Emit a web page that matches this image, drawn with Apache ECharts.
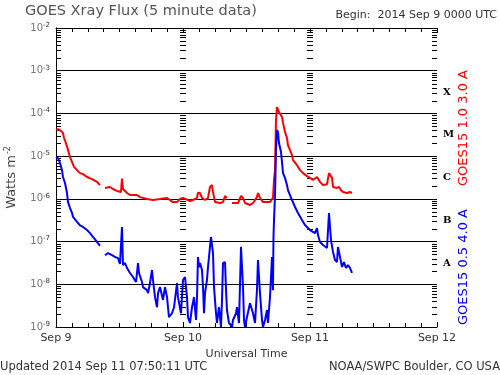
<!DOCTYPE html>
<html>
<head>
    <meta charset="utf-8">
    <title>GOES Xray Flux</title>
    <script src="https://cdn.jsdelivr.net/npm/echarts@6/dist/echarts.min.js"></script>
    <style>
        html, body { margin: 0; padding: 0; background: #fff; }
        #chart { width: 500px; height: 375px; }
    </style>
</head>
<body>
<div id="chart"></div>
<script type="text/javascript">
    // hours since 2014 Sep 9 00:00 UTC, flux in W/m^2
    var dayLabels = ['Sep 9', 'Sep 10', 'Sep 11', 'Sep 12'];
    var classLabels = ['A', 'B', 'C', 'M', 'X'];
    var decades = [-9, -8, -7, -6, -5, -4, -3];
    var minorSteps = [2, 3, 4, 5, 6, 7, 8, 9];
    var tickColumns = [0, 24, 48, 72];

    // GOES15 1.0-8.0 A (long channel)
    var longFlux = [
        [0, 4.1e-5], [0.38, 4.3e-5], [0.94, 3.9e-5], [1.32, 3.5e-5], [1.51, 2.7e-5], [1.89, 2.0e-5],
        [2.27, 1.4e-5], [2.65, 9.5e-6], [3.02, 7.3e-6], [3.40, 5.6e-6], [3.97, 4.7e-6], [4.54, 4.0e-6],
        [5.10, 3.8e-6], [5.86, 3.25e-6], [6.80, 2.9e-6], [7.75, 2.5e-6], [8.31, 2.1e-6], null,
        [9.26, 1.8e-6], [10.2, 1.9e-6], [10.77, 1.7e-6], [11.53, 1.53e-6], [12.28, 1.45e-6], [12.47, 3.0e-6],
        [12.66, 1.7e-6], [13.42, 1.37e-6], [13.98, 1.23e-6], [15.31, 1.23e-6], [15.5, 1.3e-6], [15.87, 1.1e-6],
        [17.2, 9.9e-7], [18.33, 9.4e-7], [19.65, 9.9e-7], [20.98, 1.05e-6], [22.1, 8.4e-7], [22.87, 8.4e-7],
        [23.43, 9.9e-7], [24.0, 1.05e-6], [25.32, 8.9e-7], [25.89, 9.4e-7], [26.65, 1.05e-6], [26.83, 1.4e-6],
        [27.21, 1.37e-6], [27.59, 1.05e-6], [28.16, 9.4e-7], [28.72, 1.05e-6], [29.1, 1.9e-6], [29.48, 2.1e-6],
        [29.67, 1.45e-6], [30.05, 8.4e-7], [30.99, 8.0e-7], [31.56, 8.4e-7], [31.94, 1.17e-6], [32.31, 1.05e-6], null,
        [33.26, 8.0e-7], [34.39, 8.0e-7], [34.96, 1.17e-6], [35.34, 1.05e-6], [35.72, 8.0e-7], [36.66, 7.2e-7],
        [37.23, 8.0e-7], [37.98, 1.1e-6], [38.17, 1.37e-6], [38.55, 1.05e-6], [39.12, 8.4e-7], [40.44, 8.4e-7],
        [41.0, 1.05e-6], [41.2, 2.8e-6], [41.39, 4.7e-6], [41.57, 7.0e-5], [41.76, 1.41e-4], [41.95, 1.49e-4],
        [42.14, 1.08e-4], [42.71, 8.2e-5], [42.9, 6.0e-5], [43.27, 3.7e-5], [43.65, 2.66e-5], [43.84, 1.8e-5],
        [44.22, 1.39e-5], [44.6, 1.06e-5], [44.79, 8.1e-6], [45.54, 6.2e-6], [46.11, 4.7e-6], [46.68, 4.0e-6],
        [47.43, 3.4e-6], [48.0, 3.1e-6], [48.57, 2.76e-6], [49.32, 3.25e-6], [49.51, 3.4e-6], [49.89, 2.5e-6],
        [50.46, 2.1e-6], [51.21, 2.2e-6], [51.59, 4.0e-6], [52.16, 3.1e-6], [52.35, 1.9e-6], [53.1, 1.8e-6],
        [53.48, 1.9e-6], [53.86, 1.6e-6], [54.24, 1.45e-6], [54.99, 1.37e-6], [55.56, 1.45e-6], [55.94, 1.37e-6]
    ];

    // GOES15 0.5-4.0 A (short channel)
    var shortFlux = [
        [0, 9.5e-6], [0.38, 9.0e-6], [0.76, 6.9e-6], [1.13, 4.7e-6], [1.32, 3.25e-6], [1.70, 2.35e-6],
        [2.08, 1.37e-6], [2.27, 8.4e-7], [2.65, 6.1e-7], [3.02, 4.7e-7], [3.21, 3.8e-7], [3.97, 2.9e-7],
        [4.54, 2.4e-7], [5.10, 2.2e-7], [5.86, 1.86e-7], [6.43, 1.58e-7], [6.99, 1.28e-7], [7.75, 9.8e-8],
        [8.31, 7.9e-8], null,
        [9.26, 4.8e-8], [9.83, 5.4e-8], [10.2, 6.0e-8], [10.58, 4.8e-8], [11.15, 4.35e-8], [11.72, 4.1e-8],
        [12.09, 3.0e-8], [12.47, 2.2e-7], [12.66, 2.8e-8], [13.04, 3.15e-8], [13.42, 2.4e-8], [13.98, 1.84e-8],
        [14.55, 1.48e-8], [15.12, 1.13e-8], [15.5, 3.15e-8], [15.68, 1.84e-8], [16.25, 1.13e-8], [16.44, 8.6e-9],
        [17.2, 7.3e-9], [17.39, 6.2e-9], [17.76, 1.07e-8], [18.14, 2.16e-8], [18.33, 1.26e-8], [18.71, 5.0e-9],
        [19.09, 2.9e-9], [19.28, 6.2e-9], [19.65, 8.6e-9], [20.22, 4.3e-9], [20.6, 8.6e-9], [20.98, 5.0e-9],
        [21.35, 1.7e-9], [21.92, 2.1e-9], [22.3, 2.9e-9], [22.87, 1.07e-8], [23.05, 5.0e-9], [23.62, 2.1e-9],
        [24.0, 1.26e-8], [24.38, 1.48e-8], [24.76, 5.0e-9], [24.94, 1.7e-9], [25.32, 1.24e-9], [25.70, 2.9e-9],
        [26.08, 5.0e-9], [26.46, 1.46e-9], [26.65, 5.0e-9], [26.83, 4.35e-8], [27.02, 2.5e-8], [27.21, 3.15e-8],
        [27.59, 2.16e-8], [27.78, 8.6e-9], [27.97, 2.1e-9], [28.16, 6.2e-9], [28.53, 1.26e-8], [28.72, 2.5e-8],
        [29.10, 7.5e-8], [29.29, 1.28e-7], [29.67, 5.4e-8], [29.86, 8.6e-9], [30.24, 2.1e-9], [30.42, 1.24e-9],
        [30.80, 2.9e-9], [31.18, 1.0e-9], [31.37, 4.3e-9], [31.56, 3.15e-8], [31.94, 3.3e-8], [32.13, 7.3e-9],
        [32.31, 2.5e-9], [32.69, 1.24e-9], [33.26, 1.0e-9], [33.45, 1.46e-9], [34.02, 2.1e-9], [34.20, 2.9e-9],
        [34.58, 1.24e-9], [34.96, 7.5e-8], [35.15, 8.3e-8], [35.34, 8.6e-9], [35.53, 1.46e-9], [35.72, 1.0e-9],
        [36.09, 1.7e-9], [36.66, 3.6e-9], [37.23, 2.1e-9], [37.61, 1.24e-9], [37.98, 7.3e-9], [38.17, 3.7e-8],
        [38.55, 6.2e-9], [38.93, 1.46e-9], [39.12, 1.0e-9], [39.5, 1.46e-9], [39.88, 2.5e-9], [40.06, 1.24e-9],
        [40.44, 5.0e-9], [40.82, 4.35e-8], [41.0, 7.3e-9], [41.1, 1.28e-7], [41.2, 3.2e-7], [41.39, 1.2e-6],
        [41.57, 1.39e-5], [41.76, 4.1e-5], [41.95, 3.67e-5], [42.14, 2.03e-5], [42.52, 1.25e-5], [42.71, 7.3e-6],
        [42.9, 4.0e-6], [43.27, 3.1e-6], [43.65, 2.1e-6], [43.84, 1.6e-6], [44.22, 1.23e-6], [44.6, 9.4e-7],
        [45.17, 6.45e-7], [45.73, 4.66e-7], [46.49, 3.2e-7], [47.05, 2.44e-7], [48.0, 1.86e-7], [48.94, 1.58e-7],
        [49.32, 2.07e-7], [49.51, 1.42e-7], [49.89, 9.75e-8], [50.46, 8.3e-8], [51.21, 7.06e-8], [51.59, 4.66e-7],
        [51.97, 1.09e-7], [52.35, 5.7e-8], [52.72, 3.7e-8], [53.1, 3.3e-8], [53.29, 7.45e-8], [53.67, 4.35e-8],
        [54.05, 2.54e-8], [54.42, 3.3e-8], [54.80, 2.4e-8], [55.18, 2.8e-8], [55.56, 2.4e-8], [55.94, 1.84e-8]
    ];

    // log minor tick marks (2..9 x 10^n) at the left, Sep 10, Sep 11 and right columns
    var minorTickData = [];
    tickColumns.forEach(function (h, ci) {
        decades.forEach(function (d) {
            minorSteps.forEach(function (m) {
                minorTickData.push([h, m * Math.pow(10, d), ci]);
            });
        });
    });

    var myChart = echarts.init(document.getElementById('chart'));

    var option = {
        backgroundColor: '#fff',
        animation: false,
        textStyle: { fontFamily: 'DejaVu Sans' },
        grid: { left: 56, right: 63, top: 28, bottom: 48, outerBoundsMode: 'none' },
        graphic: [
            { type: 'text', left: 25, top: 4,
              style: { text: 'GOES Xray Flux (5 minute data)', fontSize: 14.5, fill: '#555', fontFamily: 'DejaVu Sans' } },
            { type: 'text', right: 3, top: 10,
              style: { text: 'Begin:  2014 Sep 9 0000 UTC', fontSize: 11, fill: '#333', fontFamily: 'DejaVu Sans' } },
            { type: 'text', left: 0, top: 361,
              style: { text: 'Updated 2014 Sep 11 07:50:11 UTC', fontSize: 11.5, fill: '#333', fontFamily: 'DejaVu Sans' } },
            { type: 'text', right: 0, top: 361,
              style: { text: 'NOAA/SWPC Boulder, CO USA', fontSize: 11.5, fill: '#333', fontFamily: 'DejaVu Sans' } },
            { type: 'text', x: 464, y: 128, rotation: Math.PI / 2,
              style: { text: 'GOES15 1.0 3.0 A', fontSize: 13, fill: '#ff0000', align: 'center', verticalAlign: 'middle', fontFamily: 'DejaVu Sans' } },
            { type: 'text', x: 464, y: 267, rotation: Math.PI / 2,
              style: { text: 'GOES15 0.5 4.0 A', fontSize: 13, fill: '#0000ff', align: 'center', verticalAlign: 'middle', fontFamily: 'DejaVu Sans' } }
        ],
        xAxis: [{
            type: 'value',
            min: 0,
            max: 72,
            interval: 24,
            name: 'Universal Time',
            nameLocation: 'middle',
            nameGap: 22,
            nameTextStyle: { fontSize: 11, color: '#333' },
            axisLine: { show: true, lineStyle: { color: '#000', width: 1 } },
            axisTick: { show: true, inside: true, length: 5, lineStyle: { color: '#000' } },
            minorTick: { show: true, splitNumber: 8, length: 4, lineStyle: { color: '#000' } },
            axisLabel: {
                fontSize: 11, color: '#333', margin: 6,
                formatter: function (v) { return dayLabels[Math.round(v / 24)]; }
            },
            splitLine: { show: false }
        }, {
            type: 'value',
            position: 'top',
            min: 0,
            max: 72,
            interval: 24,
            axisLine: { show: true, lineStyle: { color: '#000', width: 1 } },
            axisTick: { show: true, inside: true, length: 5, lineStyle: { color: '#000' } },
            minorTick: { show: true, splitNumber: 8, length: 4, lineStyle: { color: '#000' } },
            axisLabel: { show: false },
            splitLine: { show: false }
        }],
        yAxis: [{
            type: 'log',
            logBase: 10,
            min: 1e-9,
            max: 1e-2,
            splitNumber: 7,
            name: '{n|Watts m}{s|-2}',
            nameLocation: 'middle',
            nameGap: 36,
            nameRotate: 90,
            nameTextStyle: {
                rich: {
                    n: { fontSize: 13, color: '#444' },
                    s: { fontSize: 8, color: '#444', padding: [0, 0, 8, 1] }
                }
            },
            axisLine: { show: true, lineStyle: { color: '#000', width: 1 } },
            axisTick: { show: false },
            axisLabel: {
                margin: 6,
                formatter: function (v) {
                    return '{b|10}{s|' + Math.round(Math.log10(v)) + '}';
                },
                rich: {
                    b: { fontSize: 10, color: '#777' },
                    s: { fontSize: 7, color: '#333', padding: [0, 0, 6, 0] }
                }
            },
            splitLine: { show: true, lineStyle: { color: '#000', width: 1 } }
        }, {
            type: 'value',
            position: 'right',
            min: -9,
            max: -2,
            interval: 0.5,
            axisLine: { show: true, lineStyle: { color: '#000', width: 1 } },
            axisTick: { show: false },
            splitLine: { show: false },
            axisLabel: {
                margin: 6,
                fontSize: 10,
                fontWeight: 'bold',
                fontFamily: 'DejaVu Serif',
                color: '#000',
                formatter: function (v) {
                    var i = Math.round(v + 7.5);
                    return (Math.abs(v - Math.round(v)) > 0.25 && i >= 0 && i < classLabels.length) ? classLabels[i] : '';
                }
            }
        }],
        series: [{
            type: 'custom',
            silent: true,
            xAxisIndex: 0,
            yAxisIndex: 0,
            clip: false,
            data: minorTickData,
            renderItem: function (params, api) {
                var p = api.coord([api.value(0), api.value(1)]);
                var col = api.value(2);
                var y = Math.round(p[1]) + 0.5;
                var x1, x2;
                if (col === 0) { x1 = p[0]; x2 = p[0] + 5; }
                else if (col === 3) { x1 = p[0] - 5; x2 = p[0]; }
                else { x1 = p[0] - 3; x2 = p[0] + 3; }
                return {
                    type: 'line',
                    shape: { x1: x1, y1: y, x2: x2, y2: y },
                    style: { stroke: '#000', lineWidth: 1 }
                };
            }
        }, {
            name: 'GOES15 1.0 3.0 A',
            type: 'line',
            data: longFlux,
            showSymbol: false,
            connectNulls: false,
            lineStyle: { color: '#ff0000', width: 2 },
            itemStyle: { color: '#ff0000' },
            z: 3
        }, {
            name: 'GOES15 0.5 4.0 A',
            type: 'line',
            data: shortFlux,
            showSymbol: false,
            connectNulls: false,
            lineStyle: { color: '#0000ff', width: 2 },
            itemStyle: { color: '#0000ff' },
            z: 4
        }]
    };

    myChart.setOption(option);
</script>
</body>
</html>
